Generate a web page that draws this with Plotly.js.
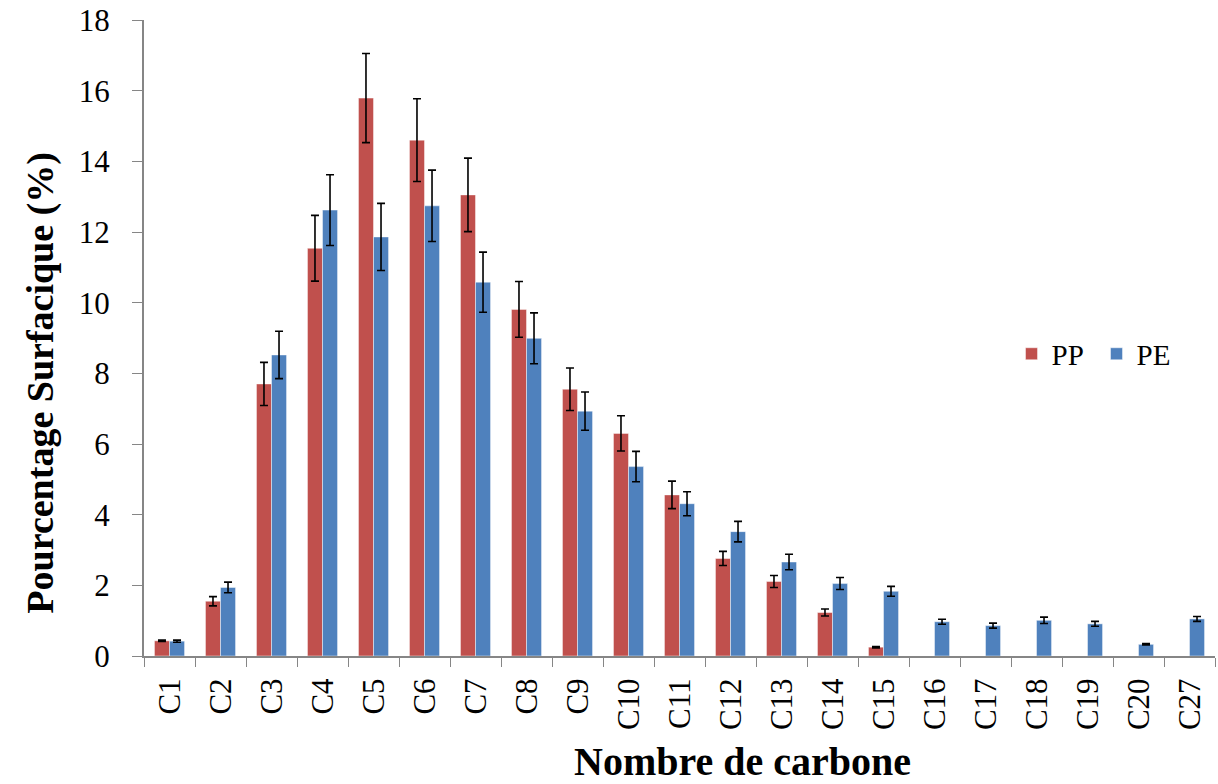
<!DOCTYPE html>
<html>
<head>
<meta charset="utf-8">
<script src="https://cdn.plot.ly/plotly-3.0.1.min.js"></script>
<style>
  html, body { margin: 0; padding: 0; background: #ffffff; }
  #chart { width: 1218px; height: 784px; }
</style>
</head>
<body>
<div id="chart"></div>
<script>
// Categories (carbon number)
const categories = ['C1','C2','C3','C4','C5','C6','C7','C8','C9','C10','C11','C12','C13','C14','C15','C16','C17','C18','C19','C20','C27'];

// PP series (% surface) and error (±)
const ppValues = [0.43, 1.55, 7.70, 11.54, 15.79, 14.60, 13.05, 9.81, 7.55, 6.30, 4.56, 2.76, 2.11, 1.23, 0.25, null, null, null, null, null, null];
const ppErrors = [0.02, 0.13, 0.61, 0.93, 1.26, 1.17, 1.04, 0.79, 0.60, 0.50, 0.39, 0.20, 0.17, 0.10, 0.02, null, null, null, null, null, null];

// PE series (% surface) and error (±)
const peValues = [0.42, 1.94, 8.52, 12.62, 11.86, 12.74, 10.58, 8.99, 6.93, 5.36, 4.31, 3.52, 2.66, 2.05, 1.83, 0.97, 0.86, 1.01, 0.91, 0.33, 1.05];
const peErrors = [0.03, 0.15, 0.67, 1.00, 0.95, 1.01, 0.85, 0.72, 0.54, 0.43, 0.34, 0.29, 0.22, 0.17, 0.14, 0.07, 0.07, 0.09, 0.07, 0.02, 0.07];

// Y axis ticks
const yTicks = [0, 2, 4, 6, 8, 10, 12, 14, 16, 18];

// Titles
const xTitle = 'Nombre de carbone';
const yTitle = 'Pourcentage Surfacique (%)';

const FONT = '"Liberation Serif", "Times New Roman", serif';

const errStyle = { type: 'data', visible: true, color: '#000000', thickness: 1.6, width: 4 };

const traces = [
  {
    type: 'bar', name: 'PP', x: categories, y: ppValues,
    marker: { color: '#C0504D', line: { color: 'rgba(255,255,255,0.45)', width: 1 } },
    error_y: Object.assign({ array: ppErrors }, errStyle)
  },
  {
    type: 'bar', name: 'PE', x: categories, y: peValues,
    marker: { color: '#4F81BD', line: { color: 'rgba(255,255,255,0.45)', width: 1 } },
    error_y: Object.assign({ array: peErrors }, errStyle)
  }
];

const layout = {
  width: 1218, height: 784,
  margin: { l: 144, r: 3, t: 20, b: 128 },
  paper_bgcolor: '#ffffff', plot_bgcolor: '#ffffff',
  barmode: 'group', bargap: 0.41, bargroupgap: 0,
  font: { family: FONT, color: '#000000', size: 30 },
  showlegend: true,
  legend: {
    orientation: 'h', x: 0.81, y: 0.475, xanchor: 'left', yanchor: 'middle',
    font: { family: FONT, size: 29, color: '#000000' },
    bgcolor: 'rgba(0,0,0,0)', itemclick: false, itemdoubleclick: false,
    entrywidth: 40, entrywidthmode: 'pixels'
  },
  xaxis: {
    type: 'category', tickson: 'boundaries', ticks: 'outside', ticklen: 9, tickwidth: 1,
    tickcolor: '#868686', showline: true, linecolor: '#868686', linewidth: 2,
    tickangle: -90, showgrid: false, zeroline: false, ticklabelstandoff: 8,
    tickfont: { family: FONT, size: 31, color: '#000000' },
    automargin: false
  },
  yaxis: {
    range: [0, 18], tickvals: yTicks, ticktext: yTicks.map(String),
    ticks: 'outside', ticklen: 10, tickwidth: 1, tickcolor: '#868686',
    showline: true, linecolor: '#868686', linewidth: 2,
    showgrid: false, zeroline: false, ticklabelstandoff: 16,
    tickfont: { family: FONT, size: 31, color: '#000000' },
    automargin: false
  },
  annotations: [
    {
      text: xTitle, xref: 'paper', yref: 'paper', x: 0.559, y: -0.127,
      xanchor: 'center', yanchor: 'top', showarrow: false,
      font: { family: FONT, size: 40, color: '#000000', weight: 'bold' }
    },
    {
      text: yTitle, xref: 'paper', yref: 'paper', x: -0.097, y: 0.43,
      xanchor: 'center', yanchor: 'middle', showarrow: false, textangle: -90,
      font: { family: FONT, size: 38, color: '#000000', weight: 'bold' }
    }
  ]
};

Plotly.newPlot('chart', traces, layout, { displayModeBar: false, staticPlot: true });
</script>
</body>
</html>
